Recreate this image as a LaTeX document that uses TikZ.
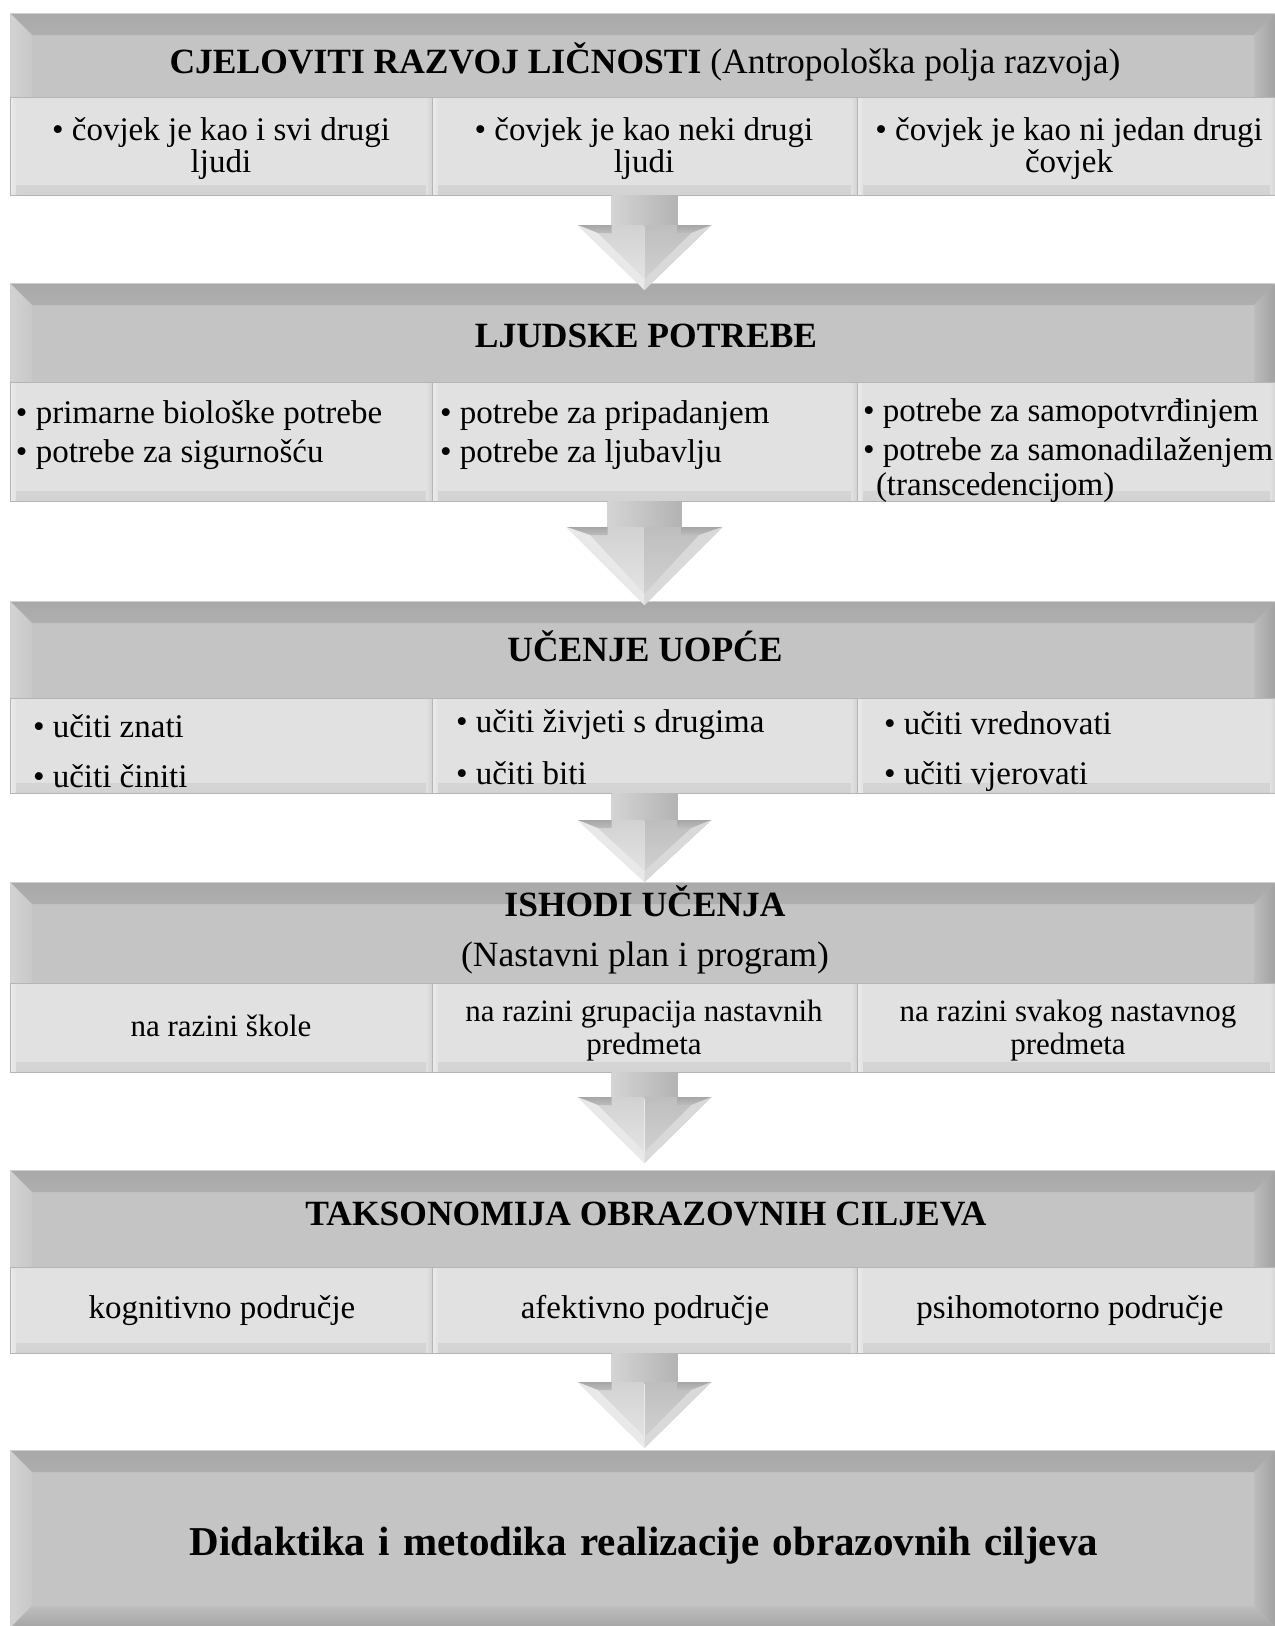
\documentclass[tikz,border=0pt]{standalone}
\usepackage{fontspec}
\setmainfont{Liberation Serif}
\usetikzlibrary{calc}

% greys of the bevelled title bars
\definecolor{hdrfill}{HTML}{C4C4C4}
\definecolor{hdrLine}{HTML}{CFCFCF}
\definecolor{bvTopOut}{HTML}{A9A9A9}
\definecolor{bvTopIn}{HTML}{C1C1C1}
\definecolor{bvLOut}{HTML}{D3D3D3}
\definecolor{bvLMid}{HTML}{E2E2E2}
\definecolor{bvLIn}{HTML}{C8C8C8}
\definecolor{bvRIn}{HTML}{BCBCBC}
\definecolor{bvROut}{HTML}{A0A0A0}
\definecolor{bvBotIn}{HTML}{BEBEBE}
\definecolor{bvBotOut}{HTML}{A4A4A4}
% greys of the content cells
\definecolor{cellfill}{HTML}{E1E1E1}
\definecolor{cellLine}{HTML}{B5B5B5}
\definecolor{cellShd}{HTML}{D3D3D3}
\definecolor{cellHi}{HTML}{ECECEC}
% greys of the block arrows
\definecolor{arSL}{HTML}{D4D4D4}
\definecolor{arSM}{HTML}{E2E2E2}
\definecolor{arSR}{HTML}{B3B3B3}
\definecolor{arLt}{HTML}{D2D2D2}
\definecolor{arLb}{HTML}{E6E6E6}
\definecolor{arRt}{HTML}{BEBEBE}
\definecolor{arRb}{HTML}{D4D4D4}
\definecolor{arShT}{HTML}{A6A6A6}
\definecolor{arShB}{HTML}{BDBDBD}
\definecolor{arEdgeL}{HTML}{E9E9E9}
\definecolor{arEdgeR}{HTML}{D9D9D9}

\def\bvw{22pt}
% top, left and right bevels of a title bar
\newcommand\hdrbevel{%
  \shade[top color=bvTopOut, bottom color=bvTopIn]
    (path picture bounding box.north west) -- (path picture bounding box.north east)
    -- ([shift={(-\bvw,-\bvw)}]path picture bounding box.north east)
    -- ([shift={(\bvw,-\bvw)}]path picture bounding box.north west) -- cycle;
  \shade[left color=bvLOut, middle color=bvLMid, right color=bvLIn]
    (path picture bounding box.north west)
    -- ([shift={(\bvw,-\bvw)}]path picture bounding box.north west)
    -- ([xshift=\bvw]path picture bounding box.south west)
    -- (path picture bounding box.south west) -- cycle;
  \shade[left color=bvRIn, right color=bvROut]
    (path picture bounding box.north east)
    -- ([shift={(-\bvw,-\bvw)}]path picture bounding box.north east)
    -- ([xshift=-\bvw]path picture bounding box.south east)
    -- (path picture bounding box.south east) -- cycle;
  \draw[white!88!gray, line width=2.5pt]
    (path picture bounding box.north west) -- (path picture bounding box.north east);
}
% full bevel, bottom edge included
\newcommand\hdrbevelfull{%
  \shade[top color=bvTopOut, bottom color=bvTopIn]
    (path picture bounding box.north west) -- (path picture bounding box.north east)
    -- ([shift={(-\bvw,-\bvw)}]path picture bounding box.north east)
    -- ([shift={(\bvw,-\bvw)}]path picture bounding box.north west) -- cycle;
  \shade[left color=bvLOut, middle color=bvLMid, right color=bvLIn]
    (path picture bounding box.north west)
    -- ([shift={(\bvw,-\bvw)}]path picture bounding box.north west)
    -- ([shift={(\bvw,\bvw)}]path picture bounding box.south west)
    -- (path picture bounding box.south west) -- cycle;
  \shade[left color=bvRIn, right color=bvROut]
    (path picture bounding box.north east)
    -- ([shift={(-\bvw,-\bvw)}]path picture bounding box.north east)
    -- ([shift={(-\bvw,\bvw)}]path picture bounding box.south east)
    -- (path picture bounding box.south east) -- cycle;
  \shade[top color=bvBotIn, bottom color=bvBotOut]
    (path picture bounding box.south west)
    -- ([shift={(\bvw,\bvw)}]path picture bounding box.south west)
    -- ([shift={(-\bvw,\bvw)}]path picture bounding box.south east)
    -- (path picture bounding box.south east) -- cycle;
  \draw[white!88!gray, line width=2.5pt]
    (path picture bounding box.north west) -- (path picture bounding box.north east);
}
% soft edges of a content cell
\newcommand\cellbevel{%
  \shade[top color=cellfill, bottom color=cellShd]
    ([yshift=10pt]path picture bounding box.south west) rectangle (path picture bounding box.south east);
  \shade[left color=cellHi, right color=cellfill]
    (path picture bounding box.south west) rectangle ([xshift=6pt]path picture bounding box.north west);
  \shade[left color=cellfill, right color=cellShd]
    ([xshift=-6pt]path picture bounding box.south east) rectangle (path picture bounding box.north east);
  \draw[cellHi, line width=2pt]
    (path picture bounding box.north west) -- (path picture bounding box.north east);
}

% bevelled block arrow from the bottom of #1 to the top of #2
% #3 tip offset, #4 head half width, #5 stem half width, #6 head length
\newcommand\blockarrow[6]{%
  \coordinate (#1tip) at ($(#1.south |- #2.north)+(0,#3)$);
  \shade[left color=arSL, middle color=arSM, right color=arSR]
    ([xshift=-#5pt]#1.south) rectangle ([shift={(#5pt,#6pt-1pt)}]#1tip);
  \shade[top color=arLt, bottom color=arLb]
    ([shift={(-#4pt,#6pt)}]#1tip) -- ([yshift=#6pt]#1tip) -- (#1tip) -- cycle;
  \shade[top color=arRt, bottom color=arRb]
    ([yshift=#6pt]#1tip) -- ([shift={(#4pt,#6pt)}]#1tip) -- (#1tip) -- cycle;
  \shade[top color=arShT, bottom color=arShB]
    ([shift={(-#4pt,#6pt)}]#1tip) -- ([shift={(-#5pt,#6pt)}]#1tip)
    -- ([shift={(-#5pt,#6pt-8pt)}]#1tip) -- ([shift={(-0.7*#4pt,#6pt-8pt)}]#1tip) -- cycle;
  \shade[top color=arShT, bottom color=arShB]
    ([shift={(#4pt,#6pt)}]#1tip) -- ([shift={(#5pt,#6pt)}]#1tip)
    -- ([shift={(#5pt,#6pt-8pt)}]#1tip) -- ([shift={(0.7*#4pt,#6pt-8pt)}]#1tip) -- cycle;
  \fill[arEdgeL]
    ([shift={(-#4pt,#6pt)}]#1tip) -- (#1tip) -- ([yshift=11pt]#1tip)
    -- ([shift={(-0.7*#4pt,#6pt-8pt)}]#1tip) -- cycle;
  \fill[arEdgeR]
    ([shift={(#4pt,#6pt)}]#1tip) -- (#1tip) -- ([yshift=11pt]#1tip)
    -- ([shift={(0.7*#4pt,#6pt-8pt)}]#1tip) -- cycle;
}

\begin{document}
\begin{tikzpicture}[x=1pt, y=-1pt,
  hdr/.style={rectangle, anchor=north west, inner sep=0pt, outer sep=0pt,
    fill=hdrfill, draw=hdrLine, line width=0.8pt, path picture={\hdrbevel}},
  hdrfull/.style={rectangle, anchor=north west, inner sep=0pt, outer sep=0pt,
    fill=hdrfill, draw=hdrLine, line width=0.8pt, path picture={\hdrbevelfull}},
  cell/.style={rectangle, anchor=north west, inner sep=0pt, outer sep=0pt,
    fill=cellfill, draw=cellLine, line width=1pt, path picture={\cellbevel}},
  txt/.style={inner sep=0pt, outer sep=0pt, text=black},
  htxt/.style={txt, anchor=base, font=\fontsize{35.5}{40}\selectfont},
  ctxt/.style={txt, font=\fontsize{33}{30}\selectfont},
  c4txt/.style={txt, anchor=base, align=center, font=\fontsize{31}{33}\selectfont},
]
\fill[white] (0,0) rectangle (1275,1626);
\useasboundingbox (0,0) rectangle (1275,1626);

% ---- title bars ----
\node[hdr, minimum width=1266pt, minimum height=84pt]  (h1) at (10,13) {};
\node[hdr, minimum width=1266pt, minimum height=99pt]  (h2) at (10,283) {};
\node[hdr, minimum width=1266pt, minimum height=97pt]  (h3) at (10,601) {};
\node[hdr, minimum width=1266pt, minimum height=101pt] (h4) at (10,882) {};
\node[hdr, minimum width=1266pt, minimum height=97pt]  (h5) at (10,1170) {};
\node[hdrfull, minimum width=1266pt, minimum height=178pt] (h6) at (10,1450) {};

% ---- content cells ----
\node[cell, minimum width=422pt, minimum height=98pt] (r1a) at (10,97) {};
\node[cell, minimum width=425pt, minimum height=98pt] (r1b) at (432,97) {};
\node[cell, minimum width=419pt, minimum height=98pt] (r1c) at (857,97) {};

\node[cell, minimum width=422pt, minimum height=119pt] (r2a) at (10,382) {};
\node[cell, minimum width=425pt, minimum height=119pt] (r2b) at (432,382) {};
\node[cell, minimum width=419pt, minimum height=119pt] (r2c) at (857,382) {};

\node[cell, minimum width=422pt, minimum height=95pt] (r3a) at (10,698) {};
\node[cell, minimum width=425pt, minimum height=95pt] (r3b) at (432,698) {};
\node[cell, minimum width=419pt, minimum height=95pt] (r3c) at (857,698) {};

\node[cell, minimum width=422pt, minimum height=89pt] (r4a) at (10,983) {};
\node[cell, minimum width=425pt, minimum height=89pt] (r4b) at (432,983) {};
\node[cell, minimum width=419pt, minimum height=89pt] (r4c) at (857,983) {};

\node[cell, minimum width=422pt, minimum height=86pt] (r5a) at (10,1267) {};
\node[cell, minimum width=425pt, minimum height=86pt] (r5b) at (432,1267) {};
\node[cell, minimum width=419pt, minimum height=86pt] (r5c) at (857,1267) {};

% ---- block arrows between the levels ----
\blockarrow{r1b}{h2}{7}{67}{33}{65}
\blockarrow{r2b}{h3}{4}{78}{37}{78}
\blockarrow{r3b}{h4}{0}{67}{33}{62}
\blockarrow{r4b}{h5}{-7}{67}{33}{66}
\blockarrow{r5b}{h6}{-2}{67}{33}{66}

% ---- texts (multi-line nodes sit on the baseline of their last line) ----
\node[htxt] (t1) at (645,73) {\textbf{CJELOVITI RAZVOJ LIČNOSTI} (Antropološka polja razvoja)};
\node[ctxt, anchor=base, align=center] (t1a) at (221,172) {• čovjek je kao i svi drugi\\ljudi};
\node[ctxt, anchor=base, align=center] (t1b) at (644,172) {• čovjek je kao neki drugi\\ljudi};
\node[ctxt, anchor=base, align=center] (t1c) at (1069,172) {• čovjek je kao ni jedan drugi\\čovjek};

\node[htxt] (t2) at (646,347) {\textbf{LJUDSKE POTREBE}};
\node[ctxt, anchor=base west, align=left] (t2a) at (16,462)
  {• primarne biološke potrebe\\[9pt]• potrebe za sigurnošću};
\node[ctxt, anchor=base west, align=left] (t2b) at (440,462)
  {• potrebe za pripadanjem\\[9pt]• potrebe za ljubavlju};
\node[ctxt, anchor=base west, align=left] (t2c) at (863,495)
  {• potrebe za samopotvrđinjem\\[9pt]• potrebe za samonadilaženjem\\[5pt]\hspace*{13pt}(transcedencijom)};

\node[htxt] (t3) at (645,661) {\textbf{UČENJE UOPĆE}};
\node[ctxt, anchor=base west, align=left] (t3a) at (33,787)
  {• učiti znati\\[20pt]• učiti činiti};
\node[ctxt, anchor=base west, align=left] (t3b) at (456,784)
  {• učiti živjeti s drugima\\[20pt]• učiti biti};
\node[ctxt, anchor=base west, align=left] (t3c) at (884,784)
  {• učiti vrednovati\\[20pt]• učiti vjerovati};

\node[htxt, align=center] (t4) at (645,966) {\textbf{ISHODI UČENJA}\\[10pt](Nastavni plan i program)};
\node[c4txt] (t4a) at (221,1036) {na razini škole};
\node[c4txt] (t4b) at (644,1054) {na razini grupacija nastavnih\\predmeta};
\node[c4txt] (t4c) at (1068,1054) {na razini svakog nastavnog\\predmeta};

\node[htxt] (t5) at (646,1225) {\textbf{TAKSONOMIJA OBRAZOVNIH CILJEVA}};
\node[ctxt, anchor=base] (t5a) at (222,1318) {kognitivno područje};
\node[ctxt, anchor=base] (t5b) at (645,1318) {afektivno područje};
\node[ctxt, anchor=base] (t5c) at (1070,1318) {psihomotorno područje};

\node[txt, anchor=base, font=\fontsize{41}{46}\selectfont\bfseries] (t6) at (644,1555)
  {Didaktika\hspace{3pt} i\hspace{3pt} metodika\hspace{3pt} realizacije\hspace{3pt} obrazovnih\hspace{3pt} ciljeva};
\end{tikzpicture}
\end{document}
